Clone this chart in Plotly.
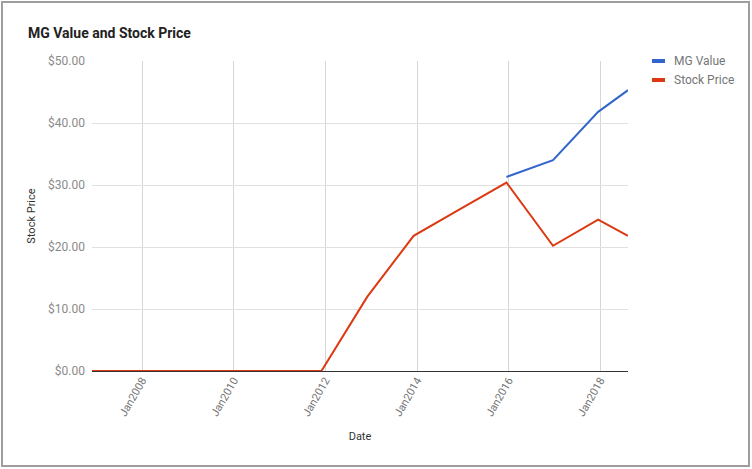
import plotly.graph_objects as go

# Data
price_dates = ["2006-11-28", "2007-11-28", "2008-11-28", "2009-11-28", "2010-11-28",
               "2011-12-01", "2012-12-01", "2013-12-05", "2014-12-10", "2015-12-15",
               "2016-12-20", "2017-12-15", "2018-08-10"]
stock_price = [0, 0, 0, 0, 0, 0, 12.0, 21.8, 26.1, 30.4, 20.2, 24.4, 21.8]

value_dates = ["2015-12-15", "2016-12-20", "2017-12-15", "2018-08-10"]
mg_value = [31.3, 34.0, 41.8, 45.3]

series_names = ["MG Value", "Stock Price"]
series_colors = ["#3366cc", "#dc3912"]
y_ticks = [0, 10, 20, 30, 40, 50]
y_tick_labels = ["$0.00", "$10.00", "$20.00", "$30.00", "$40.00", "$50.00"]
x_ticks = ["2008-01-01", "2010-01-01", "2012-01-01", "2014-01-01", "2016-01-01", "2018-01-01"]
x_tick_labels = ["Jan2008", "Jan2010", "Jan2012", "Jan2014", "Jan2016", "Jan2018"]

W, H = 752, 469
L, R, T, B = 92, 628, 61, 371
pw, ph = R - L, B - T


def px(x):
    return (x - L) / pw


def py(y):
    return (B - y) / ph


fig = go.Figure()
fig.add_trace(go.Scatter(x=value_dates, y=mg_value, mode="lines", name=series_names[0],
                         line=dict(color=series_colors[0], width=2), showlegend=False))
fig.add_trace(go.Scatter(x=price_dates, y=stock_price, mode="lines", name=series_names[1],
                         line=dict(color=series_colors[1], width=2), showlegend=False))

font = "Roboto, Arial, sans-serif"

fig.update_layout(
    width=W, height=H,
    margin=dict(l=L, r=W - R, t=T, b=H - B, pad=0),
    paper_bgcolor="white", plot_bgcolor="white",
    hovermode=False,
    font=dict(family=font, size=12, color="#757575"),
    xaxis=dict(
        type="date", range=["2006-11-28", "2018-08-10"],
        tickvals=x_ticks, ticktext=x_tick_labels, tickangle=-60,
        tickfont=dict(size=11, color="#757575"),
        showgrid=True, gridcolor="#d6d6d6", gridwidth=1,
        zeroline=False, showline=False, ticks="",
        title=dict(text="Date", font=dict(size=11, color="#333333"), standoff=14),
    ),
    yaxis=dict(
        range=[0, 50], tickvals=y_ticks, ticktext=y_tick_labels,
        tickfont=dict(size=12, color="#8a8a8a"),
        showgrid=True, gridcolor="#e0e0e0", gridwidth=1,
        zeroline=True, zerolinecolor="#333333", zerolinewidth=1,
        showline=False, ticks="", ticklabelstandoff=6,
        title=dict(text="Stock Price", font=dict(size=11, color="#333333"), standoff=10),
    ),
)

shapes = [
    dict(type="rect", xref="paper", yref="paper",
         x0=px(2), x1=px(749), y0=py(466), y1=py(2),
         line=dict(color="#9e9e9e", width=2), fillcolor="rgba(0,0,0,0)", layer="below"),
]
annotations = [
    dict(text="<b>MG Value and Stock Price</b>", xref="paper", yref="paper",
         x=px(26), y=py(33), xanchor="left", yanchor="middle", showarrow=False,
         font=dict(family=font, size=14, color="#222222")),
]
for i, (nm, col) in enumerate(zip(series_names, series_colors)):
    yy = 61 + i * 19
    shapes.append(dict(type="line", xref="paper", yref="paper",
                       x0=px(652), x1=px(665), y0=py(yy), y1=py(yy),
                       line=dict(color=col, width=4)))
    annotations.append(dict(text=nm, xref="paper", yref="paper", x=px(672), y=py(yy),
                            xanchor="left", yanchor="middle", showarrow=False,
                            font=dict(family=font, size=12, color="#757575")))

fig.update_layout(shapes=shapes, annotations=annotations)
fig.write_html("out.html", config={"displayModeBar": False},
               post_script="document.body.style.margin='0px';document.body.style.padding='0px';")
